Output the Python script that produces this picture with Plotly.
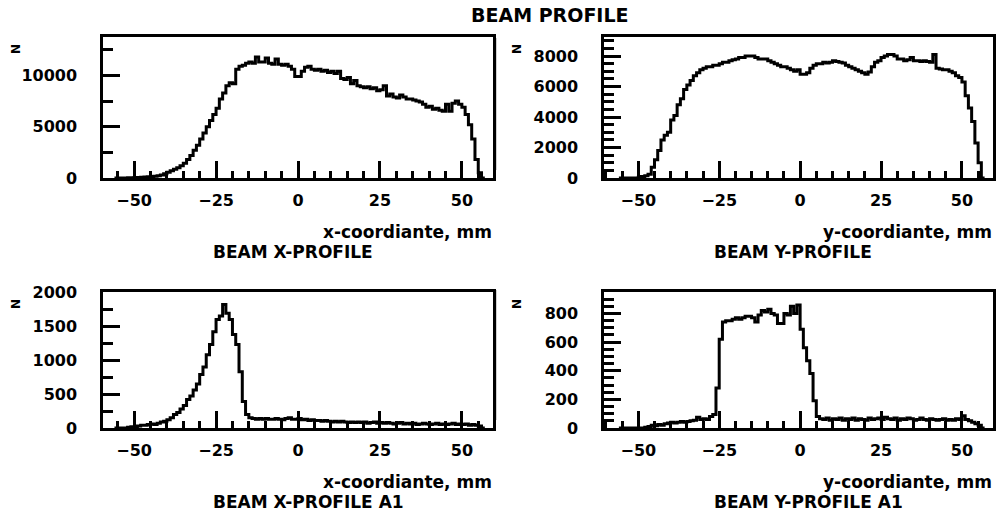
import numpy as np
import plotly.graph_objects as go

# ---------------- data (1 mm bins, left edges in mm) ----------------
bins_mm = list(range(-56, 57))

x_profile = [
    0, 0, 0, 10, 20, 30, 40, 60, 80, 100, 120, 150,
    180, 230, 300, 420, 560, 700, 850, 1000, 1200, 1450,
    1800, 2200, 2700, 3200, 3800, 4400, 5000, 5600, 6200, 6800,
    7700, 8300, 9000, 9300, 9200, 10600, 10900, 11000, 11200, 11300,
    11200, 11800, 11300, 11300, 11700, 11200, 11100, 11600, 11100, 11000,
    11100, 10900, 10600, 9900, 9900, 10400, 10800, 10900, 10600, 10500,
    10600, 10400, 10500, 10300, 10400, 10200, 10400, 9700, 9600, 9800,
    9200, 9500, 9000, 8900, 8800, 8900, 8700, 8800, 8500, 8600,
    9000, 8000, 8200, 7900, 7800, 8100, 7900, 7700, 7700, 7600,
    7500, 7400, 7200, 6900, 7000, 6700, 6800, 6600, 6500, 7200,
    6500, 7300, 7500, 7200, 6900, 6200, 5200, 3800, 1800, 500, 0,
]

y_profile = [
    0, 0, 0, 0, 0, 0, 50, 100, 150, 250,
    700, 1200, 1800, 2500, 2800, 3000, 3800, 4100, 4800, 5200,
    5800, 6100, 6400, 6700, 6900, 7100, 7200, 7300, 7300, 7400,
    7400, 7500, 7600, 7600, 7700, 7750, 7800, 7900, 7900, 8000,
    8000, 8000, 7900, 7800, 7800, 7800, 7700, 7600, 7500, 7400,
    7300, 7300, 7200, 7100, 7000, 7100, 6800, 6800, 6900, 7200,
    7400, 7500, 7500, 7600, 7550, 7600, 7700, 7650, 7600, 7550,
    7400, 7300, 7200, 7100, 7000, 6900, 6800, 6950, 7300, 7600,
    7700, 7900, 8000, 8100, 8100, 8000, 7800, 7800, 7700, 7750,
    7900, 7700, 7700, 7650, 7700, 7650, 7600, 8100, 7200, 7150,
    7100, 7100, 7000, 6900, 6700, 6600, 6300, 5400, 4600, 3700, 2300, 1000, 0,
]

x_profile_a1 = [
    0, 0, 0, 0, 10, 20, 20, 30, 40, 40, 50, 60,
    50, 70, 90, 100, 120, 150, 200, 230, 280, 330,
    420, 470, 560, 650, 790, 900, 1080, 1230, 1420, 1600,
    1650, 1820, 1690, 1600, 1380, 1230, 830, 390, 200, 150,
    140, 130, 140, 130, 140, 130, 130, 140, 130, 120,
    140, 150, 130, 130, 140, 120, 130, 110, 120, 110,
    110, 100, 110, 100, 90, 100, 90, 100, 90, 80,
    90, 80, 90, 80, 90, 70, 80, 90, 70, 80,
    70, 80, 70, 60, 70, 80, 60, 70, 60, 70,
    50, 60, 70, 60, 50, 60, 70, 50, 60, 50,
    60, 70, 50, 60, 50, 60, 40, 50, 40, 30, 0,
]

y_profile_a1 = [
    0, 0, 0, 0, 0, 0, 0, 0, 5, 10,
    20, 15, 25, 20, 30, 35, 40, 35, 40, 45,
    40, 45, 50, 55, 75, 60, 65, 60, 80, 95,
    280, 620, 740, 750, 750, 760, 770, 760, 770, 780,
    780, 770, 740, 790, 820, 810, 830, 800, 790, 730,
    730, 800, 790, 850, 800, 860, 690, 560, 470, 380,
    190, 80, 65, 60, 70, 55, 65, 60, 70, 55,
    65, 60, 70, 55, 65, 60, 55, 70, 60, 65,
    70, 60, 75, 65, 60, 70, 55, 65, 60, 70,
    65, 55, 60, 70, 60, 55, 65, 60, 55, 60,
    65, 55, 60, 55, 65, 60, 85, 60, 50, 40, 30, 20, 0,
]

main_title = "BEAM PROFILE"
panel_titles = ["BEAM X-PROFILE", "BEAM Y-PROFILE", "BEAM X-PROFILE A1", "BEAM Y-PROFILE A1"]
axis_titles = ["x-coordiante, mm", "y-coordiante, mm", "x-coordiante, mm", "y-coordiante, mm"]
y_label = "N"

# ---------------- layout ----------------
W, H = 996, 512
FONT = "DejaVu Sans"

def px_x(p):
    return p / W

def px_y(p):
    return 1 - p / H

panels = [
    dict(vals=x_profile, xpx=(103, 493), ypx=(37, 178), xr=[-59.5, 59.5], yr=[0, 13750], dt=5000, mdt=2500),
    dict(vals=y_profile, xpx=(604, 993), ypx=(37, 178), xr=[-60.6, 59.6], yr=[0, 9250], dt=2000, mdt=500),
    dict(vals=x_profile_a1, xpx=(103, 493), ypx=(292, 428), xr=[-59.5, 59.5], yr=[0, 2005], dt=500, mdt=250),
    dict(vals=y_profile_a1, xpx=(604, 993), ypx=(292, 428), xr=[-60.6, 59.6], yr=[0, 950], dt=200, mdt=50),
]

fig = go.Figure()
edges = np.array(bins_mm, dtype=float)
bin_w = 1.0

annotations = []
layout_axes = {}
for i, p in enumerate(panels):
    k = "" if i == 0 else str(i + 1)
    vals = np.array(p["vals"], dtype=float)
    xs = np.concatenate([[edges[0]], edges, [edges[-1] + bin_w]])
    ys = np.concatenate([[0.0], vals, [vals[-1]]])
    fig.add_trace(go.Scatter(
        x=xs, y=ys, mode="lines", line=dict(color="black", width=3, shape="hv"),
        xaxis="x" + k, yaxis="y" + k, showlegend=False, hoverinfo="skip",
    ))
    tickfont = dict(family=FONT, size=16, color="black", weight="bold")
    layout_axes["xaxis" + k] = dict(
        domain=[px_x(p["xpx"][0]), px_x(p["xpx"][1])], range=p["xr"], anchor="y" + k,
        automargin=False,
        showline=True, linewidth=2.5, linecolor="black", mirror=True,
        ticks="inside", ticklen=17, tickwidth=2.5, tickcolor="black",
        tick0=0, dtick=25, showgrid=False, zeroline=False,
        minor=dict(ticks="inside", ticklen=7, tickwidth=2.5, tickcolor="black", tick0=0, dtick=5, showgrid=False),
        tickfont=tickfont, ticklabelstandoff=6,
    )
    layout_axes["yaxis" + k] = dict(
        domain=[px_y(p["ypx"][1]), px_y(p["ypx"][0])], range=p["yr"], anchor="x" + k,
        automargin=False,
        showline=True, linewidth=2.5, linecolor="black", mirror=True,
        ticks="inside", ticklen=17, tickwidth=2.5, tickcolor="black",
        tick0=0, dtick=p["dt"], showgrid=False, zeroline=False, tickformat="d",
        minor=dict(ticks="inside", ticklen=10, tickwidth=2.5, tickcolor="black", tick0=0, dtick=p["mdt"], showgrid=False),
        tickfont=tickfont, ticklabelstandoff=20,
    )
    # axis title (right aligned at frame edge)
    annotations.append(dict(
        text=axis_titles[i], xref="paper", yref="paper",
        x=px_x(p["xpx"][1] + 1), y=px_y(p["ypx"][1] + 54), xanchor="right", yanchor="middle",
        showarrow=False, font=dict(family=FONT, size=17, color="black", weight="bold"),
    ))
    # panel title (below axis title)
    annotations.append(dict(
        text=panel_titles[i], xref="paper", yref="paper",
        x=px_x(p["xpx"][0] + 108), y=px_y(p["ypx"][1] + 74), xanchor="left", yanchor="middle",
        showarrow=False, font=dict(family=FONT, size=17, color="black", weight="bold"),
    ))
    # N label
    annotations.append(dict(
        text=y_label, xref="paper", yref="paper",
        x=px_x(p["xpx"][0] - 87), y=px_y(p["ypx"][0] + 12), xanchor="center", yanchor="middle",
        textangle=-90, showarrow=False, font=dict(family=FONT, size=12, color="black", weight="bold"),
    ))

annotations.append(dict(
    text=main_title, xref="paper", yref="paper", x=px_x(550), y=px_y(15),
    xanchor="center", yanchor="middle", showarrow=False,
    font=dict(family=FONT, size=19, color="black", weight="bold"),
))

# faint separator lines seen at the left edge of the right-hand panels
shapes = [
    dict(type="line", xref="paper", yref="paper", x0=px_x(496.5), x1=px_x(496.5),
         y0=px_y(38), y1=px_y(170), line=dict(color="#d0d0d0", width=1)),
    dict(type="line", xref="paper", yref="paper", x0=px_x(496.5), x1=px_x(496.5),
         y0=px_y(290), y1=px_y(420), line=dict(color="#d0d0d0", width=1)),
]

fig.update_layout(
    template="none",
    width=W, height=H, margin=dict(l=0, r=0, t=0, b=0, pad=0, autoexpand=False),
    paper_bgcolor="white", plot_bgcolor="white",
    annotations=annotations, shapes=shapes, **layout_axes,
)

fig.write_html(
    "out.html",
    config={"displayModeBar": False},
    post_script="document.body.style.margin='0';document.body.style.overflow='hidden';",
)
